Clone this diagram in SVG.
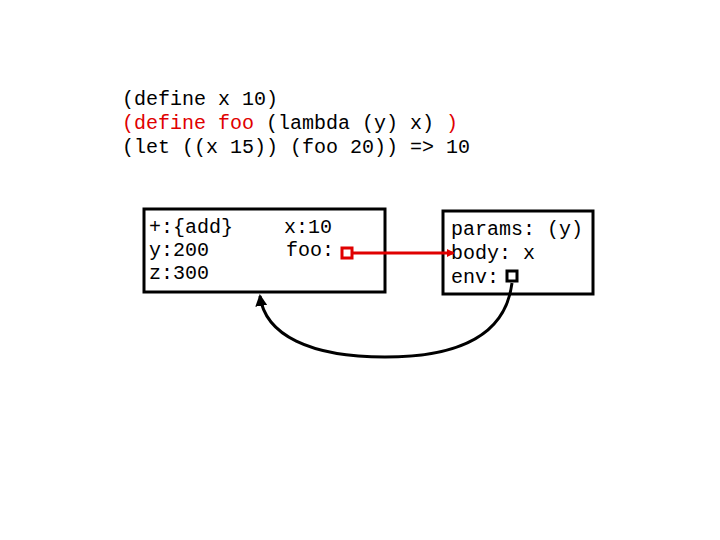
<svg xmlns="http://www.w3.org/2000/svg" width="720" height="540" viewBox="0 0 720 540">
<style>
text{font-family:"Liberation Mono","Courier New",monospace;font-size:20px;fill:#000}
.r{fill:#e00000}
.box{fill:#fff;stroke:#000;stroke-width:3}
</style>
<defs>
<marker id="ar" markerWidth="8" markerHeight="8" refX="6" refY="4" orient="auto" markerUnits="userSpaceOnUse"><path d="M0,0 L8,4 L0,8 z" fill="#e00000"/></marker>
<marker id="ab" markerWidth="12" markerHeight="12" refX="10" refY="6" orient="auto" markerUnits="userSpaceOnUse"><path d="M0,0 L12,6 L0,12 z" fill="#000"/></marker>
</defs>
<g id="code">
<text x="122" y="105">(define x 10)</text>
<text x="122" y="129"><tspan class="r">(define foo</tspan> (lambda (y) x)<tspan class="r"> )</tspan></text>
<text x="122" y="153">(let ((x 15)) (foo 20)) =&gt; 10</text>
</g>
<g id="env">
<rect class="box" x="144" y="209" width="241" height="83"/>
<text x="149" y="233">+:{add}</text>
<text x="149" y="256">y:200</text>
<text x="149" y="279">z:300</text>
<text x="284" y="233">x:10</text>
<text x="286" y="256">foo:</text>
<rect x="342" y="248" width="10" height="10" fill="#fff" stroke="#e00000" stroke-width="3"/>
</g>
<g id="closure">
<rect class="box" x="443" y="211" width="150" height="83"/>
<text x="451" y="235">params: (y)</text>
<text x="451" y="259">body: x</text>
<text x="451" y="283">env:</text>
<rect x="507" y="271" width="10" height="10" fill="#fff" stroke="#000" stroke-width="3"/>
</g>
<g id="connectors">
<line x1="353" y1="253" x2="453" y2="253" stroke="#e00000" stroke-width="3" marker-end="url(#ar)"/>
<path d="M512,283 C505,340 450,357 385,357 C310,357 265,335 260,296" fill="none" stroke="#000" stroke-width="3" marker-end="url(#ab)"/>
</g>
</svg>
